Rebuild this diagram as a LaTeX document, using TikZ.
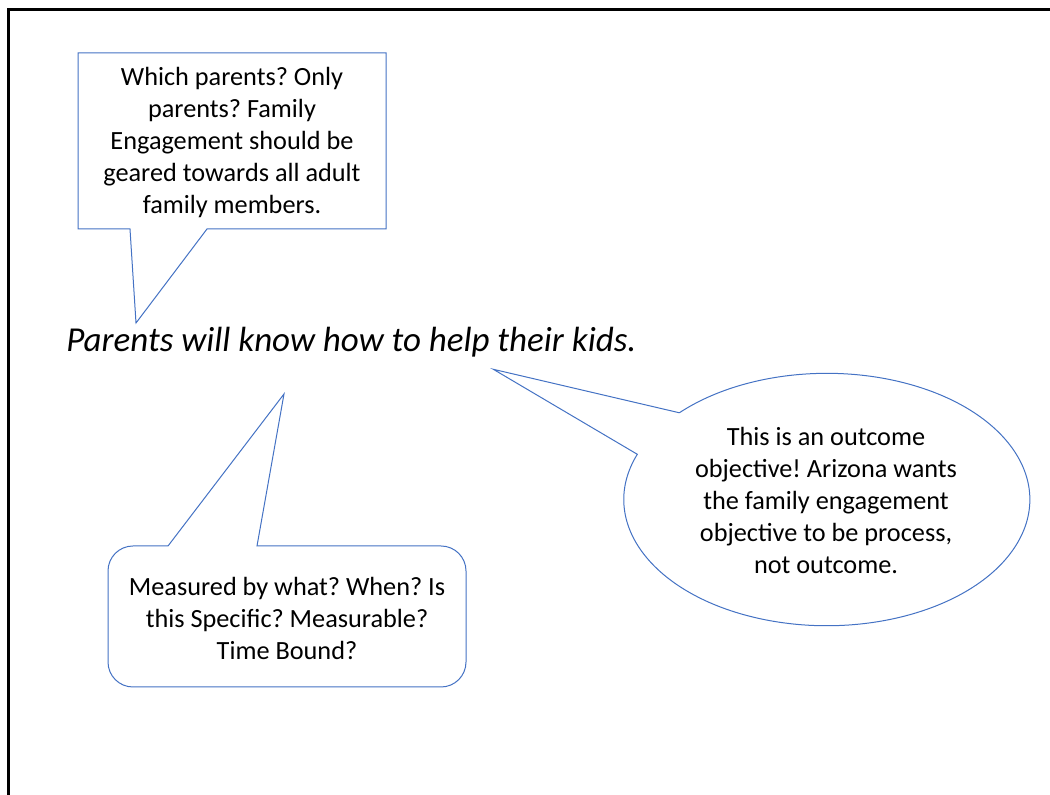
\documentclass[tikz,border=0pt]{standalone}
\usepackage{fontspec}
\setmainfont{Carlito}
\definecolor{calloutblue}{HTML}{4472C4}
\begin{document}
\frenchspacing
\begin{tikzpicture}[x=0.75pt,y=0.75pt,
  callout/.style={draw=calloutblue, line width=0.75pt, fill=white, line join=miter},
  callouttext/.style={align=center, inner sep=0pt, font=\fontsize{19.7pt}{24pt}\selectfont},
  frame/.style={draw=black, line width=2.25pt}]
\useasboundingbox (0,0) rectangle (1050,795);
% slide frame
\draw[frame] (8,0) -- (8,785.5) -- (1050,785.5);
% main statement
\node[anchor=base west, inner sep=0pt, font=\fontsize{26.25pt}{31pt}\selectfont\itshape] (stmt) at (66,443) {Parents will know how to help their kids.};
% rectangular callout
\draw[callout] (78,742) -- (386,742) -- (386,566) -- (207,566) -- (136,472) -- (130,566) -- (78,566) -- cycle;
\node[callouttext] (which) at (232,652.5) {Which parents? Only\\parents? Family\\Engagement should be\\geared towards all adult\\family members.};
% oval callout
\draw[callout] (679,382.3) -- (493.3,425.7) -- (637.3,340.7) arc[start angle=159, end angle=496.5, x radius=203, y radius=126.2] -- cycle;
\node[callouttext] (outcome) at (826,294.5) {This is an outcome\\objective! Arizona wants\\the family engagement\\objective to be process,\\not outcome.};
% rounded rectangle callout
\draw[callout] (168,249) -- (284,401) -- (257,249) -- (441,249)
  arc[start angle=90, end angle=0, radius=25] -- (466,133)
  arc[start angle=0, end angle=-90, radius=25] -- (133,108)
  arc[start angle=270, end angle=180, radius=25] -- (108,224)
  arc[start angle=180, end angle=90, radius=25] -- cycle;
\node[callouttext] (measured) at (287,177) {Measured by what? When? Is\\this Specific? Measurable?\\Time Bound?};
\end{tikzpicture}
\end{document}
